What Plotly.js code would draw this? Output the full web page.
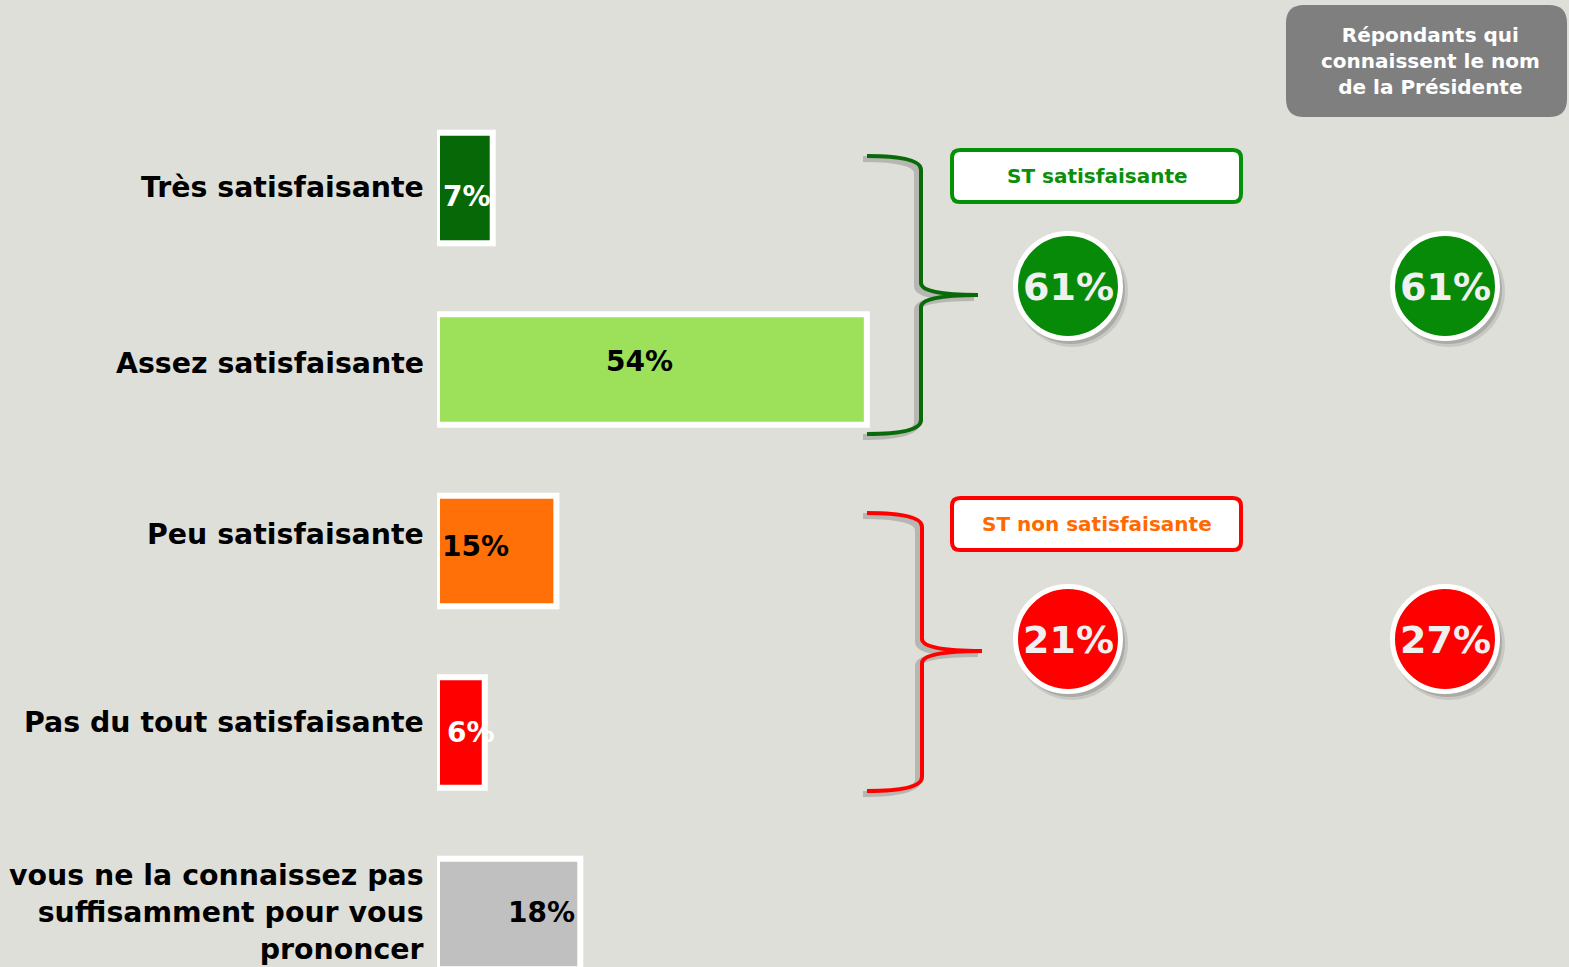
<!DOCTYPE html>
<html>
<head>
<meta charset="utf-8">
<script src="https://cdn.plot.ly/plotly-3.0.1.min.js"></script>
<style>html,body{margin:0;padding:0;background:#dfdfda;}#chart{width:1569px;height:967px;}</style>
</head>
<body>
<div id="chart"></div>
<script>
// ---- data ----
const categories = [
  'Très satisfaisante',
  'Assez satisfaisante',
  'Peu satisfaisante',
  'Pas du tout satisfaisante',
  'vous ne la connaissez pas<br>suffisamment pour vous<br>prononcer'
];
const values = [7, 54, 15, 6, 18];
const groupLabels = ['ST satisfaisante', 'ST non satisfaisante'];
const groupTotals = [61, 21];
const knownTotals = [61, 27];
const panelTitle = 'Répondants qui<br>connaissent le nom<br>de la Présidente';

// ---- styles ----
const barColors = ['#066806', '#9de05a', '#ff7009', '#ff0000', '#c0c0c0'];
const textColors = ['#ffffff', '#000000', '#000000', '#ffffff', '#000000'];
const textAnchors = ['center', 'center', 'left', 'center', 'right'];
const textShiftX = [2, -12, 3, 10, -3];
const textShiftY = [-8, 8, 5, 0, 2];
const labelShiftY = [1, 6, 17, 10, 2];
const groupColors = ['#069006', '#ff0000'];
const groupTextColors = ['#0a8f0a', '#ff6a00'];
const braceColors = ['#0a6a0a', '#ff0000'];
const circleColors = ['#078a07', '#ff0000'];

const W = 1569, H = 967, L = 437, PW = W - L;
const PXPER = 7.96;
const X = px => (px - L) / PW;
const Y = py => 1 - py / H;
const FONT = 'DejaVu Sans, Verdana, sans-serif';

const trace = {
  type: 'bar', orientation: 'h',
  y: categories, x: values,
  width: 0.61,
  marker: {color: barColors, line: {color: '#ffffff', width: 6}},
  hoverinfo: 'none'
};

const annotations = [];
values.forEach((v, i) => {
  const a = textAnchors[i];
  annotations.push({
    xref: 'x', yref: 'y', y: categories[i],
    x: a === 'center' ? v / 2 : (a === 'left' ? 0 : v),
    xanchor: a, yanchor: 'middle', xshift: textShiftX[i], yshift: textShiftY[i],
    text: v + '%', showarrow: false,
    font: {family: FONT, size: 28, color: textColors[i], weight: 'bold'}
  });
  annotations.push({
    xref: 'paper', yref: 'y', y: categories[i], x: 0,
    xanchor: 'right', yanchor: 'middle', xshift: -11, yshift: labelShiftY[i],
    text: categories[i], showarrow: false, align: 'right',
    font: {family: FONT, size: 28.4, color: '#000000', weight: 'bold'}
  });
});

const shapes = [];
function rrect(x0, y0, x1, y1, r) {
  return `M ${X(x0 + r)} ${Y(y0)} L ${X(x1 - r)} ${Y(y0)} Q ${X(x1)} ${Y(y0)} ${X(x1)} ${Y(y0 + r)} ` +
    `L ${X(x1)} ${Y(y1 - r)} Q ${X(x1)} ${Y(y1)} ${X(x1 - r)} ${Y(y1)} L ${X(x0 + r)} ${Y(y1)} ` +
    `Q ${X(x0)} ${Y(y1)} ${X(x0)} ${Y(y1 - r)} L ${X(x0)} ${Y(y0 + r)} Q ${X(x0)} ${Y(y0)} ${X(x0 + r)} ${Y(y0)} Z`;
}
function brace(x0, xv, xc, yt, yc, yb, dx, dy) {
  dx = dx || 0; dy = dy || 0;
  const P = (x, y) => `${X(x + dx)} ${Y(y + dy)}`;
  return `M ${P(x0, yt)} Q ${P(xv, yt)} ${P(xv, yt + 14)} L ${P(xv, yc - 12)} Q ${P(xv, yc)} ${P(xc, yc)} ` +
    `Q ${P(xv, yc)} ${P(xv, yc + 12)} L ${P(xv, yb - 14)} Q ${P(xv, yb)} ${P(x0, yb)}`;
}
function circle(cx, cy, r, fill, line, lw) {
  return {type: 'circle', xref: 'paper', yref: 'paper',
    x0: X(cx - r), x1: X(cx + r), y0: Y(cy + r), y1: Y(cy - r),
    fillcolor: fill, line: {color: line, width: lw}, layer: 'above'};
}
function label(px, py, text, size, color) {
  return {xref: 'paper', yref: 'paper', x: X(px), y: Y(py), xanchor: 'center', yanchor: 'middle',
    text: text, showarrow: false, align: 'center',
    font: {family: FONT, size: size, color: color, weight: 'bold'}};
}

// grey panel top-right
shapes.push({type: 'path', xref: 'paper', yref: 'paper', path: rrect(1286, 5, 1567, 117, 18),
  fillcolor: '#7f7f7f', line: {width: 0}, layer: 'above'});
annotations.push(label(1430, 61, panelTitle, 20, '#ffffff'));

// braces
const braceGeom = [
  [867, 921, 978, 156, 295, 434],
  [867, 922, 982, 513, 651, 791]
];
braceGeom.forEach((g, i) => {
  shapes.push({type: 'path', xref: 'paper', yref: 'paper', path: brace(...g, -4, 3),
    line: {color: 'rgba(0,0,0,0.18)', width: 6}, layer: 'above'});
  shapes.push({type: 'path', xref: 'paper', yref: 'paper', path: brace(...g),
    line: {color: braceColors[i], width: 4}, layer: 'above'});
});

// group boxes
const boxY = [[148, 204], [496, 552]];
groupLabels.forEach((lab, i) => {
  shapes.push({type: 'path', xref: 'paper', yref: 'paper', path: rrect(952, boxY[i][0] + 2, 1241, boxY[i][1] - 2, 8),
    fillcolor: '#ffffff', line: {color: groupColors[i], width: 4}, layer: 'above'});
  annotations.push(label(1097, (boxY[i][0] + boxY[i][1]) / 2, lab, 20, groupTextColors[i]));
});

// circles
const circleCY = [286, 639];
const circleCX = [1068, 1445];
[groupTotals, knownTotals].forEach((arr, col) => {
  arr.forEach((v, i) => {
    const cx = circleCX[col], cy = circleCY[i];
    shapes.push(circle(cx + 4, cy + 5, 56, 'rgba(0,0,0,0.10)', 'rgba(0,0,0,0)', 0));
    shapes.push(circle(cx + 3, cy + 4, 54, 'rgba(0,0,0,0.15)', 'rgba(0,0,0,0)', 0));
    shapes.push(circle(cx, cy, 52.5, circleColors[i], '#ffffff', 5));
    annotations.push(label(cx, cy + 1, v + '%', 38, '#f0f0f0'));
  });
});

const c0 = 188, step = 181.5;
const layout = {
  width: W, height: H,
  margin: {l: L, r: 0, t: 0, b: 0},
  paper_bgcolor: '#dfdfda', plot_bgcolor: '#dfdfda',
  showlegend: false,
  xaxis: {range: [0, PW / PXPER], visible: false, showgrid: false, zeroline: false, fixedrange: true},
  yaxis: {type: 'category', range: [(H - c0) / step, -c0 / step], showgrid: false, zeroline: false,
    showline: false, ticks: '', showticklabels: false},
  shapes: shapes,
  annotations: annotations
};
Plotly.newPlot('chart', [trace], layout, {displayModeBar: false, staticPlot: true});
</script>
</body>
</html>
